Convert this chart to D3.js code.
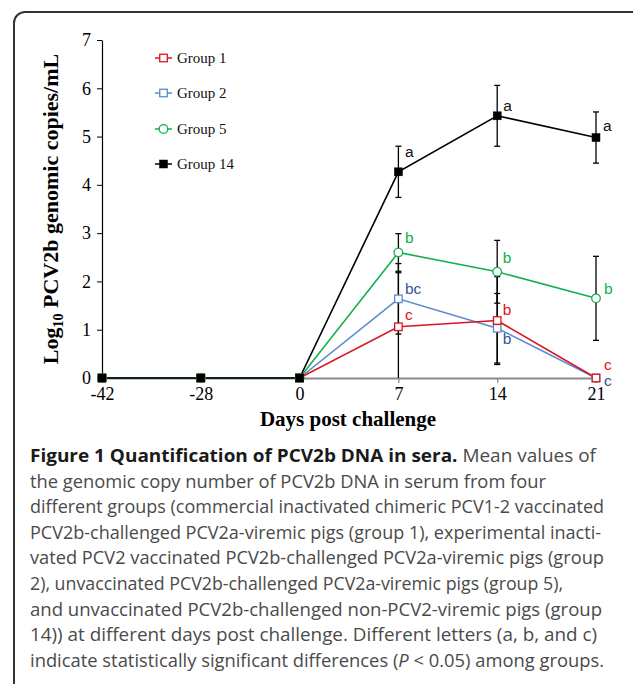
<!DOCTYPE html>
<html>
<head>
<meta charset="utf-8">
<script src="https://cdn.jsdelivr.net/npm/d3@7"></script>
<style>
  html, body { margin: 0; padding: 0; background: #fff; }
  svg { display: block; }
</style>
</head>
<body>
<svg id="chart" width="633" height="684"></svg>
<script>
// ---------- data ----------
const days = ["-42", "-28", "0", "7", "14", "21"];
const yTicks = [0, 1, 2, 3, 4, 5, 6, 7];

const groupNames = ["Group 1", "Group 2", "Group 5", "Group 14"];

const group1 = [0, 0, 0, 1.06, 1.19, 0];
const group1Err = [0, 0, 0, 1.12, 0.91, 0];
const group1Letters = [null, null, null, "c", "b", "c"];

const group2 = [0, 0, 0, 1.64, 1.03, 0];
const group2Err = [0, 0, 0, 0.73, 0.72, 0];
const group2Letters = [null, null, null, "bc", "b", "c"];

const group5 = [0, 0, 0, 2.60, 2.20, 1.65];
const group5Err = [0, 0, 0, 0.39, 0.65, 0.87];
const group5Letters = [null, null, null, "b", "b", "b"];

const group14 = [0, 0, 0, 4.27, 5.43, 4.98];
const group14Err = [0, 0, 0, 0.53, 0.63, 0.53];
const group14Letters = [null, null, null, "a", "a", "a"];

const yTitleMain = "Log";
const yTitleSub = "10";
const yTitleRest = " PCV2b genomic copies/mL";
const xTitle = "Days post challenge";

const captionBold = "Figure 1 Quantification of PCV2b DNA in sera.";
const captionLines = [
  " Mean values of",
  "the genomic copy number of PCV2b DNA in serum from four",
  "different groups (commercial inactivated chimeric PCV1-2 vaccinated",
  "PCV2b-challenged PCV2a-viremic pigs (group 1), experimental inacti-",
  "vated PCV2 vaccinated PCV2b-challenged PCV2a-viremic pigs (group",
  "2), unvaccinated PCV2b-challenged PCV2a-viremic pigs (group 5),",
  "and unvaccinated PCV2b-challenged non-PCV2-viremic pigs (group",
  "14)) at different days post challenge. Different letters (a, b, and c)",
  "indicate statistically significant differences (P < 0.05) among groups."
];

// ---------- styles / layout ----------
const series = [
  { name: groupNames[0], values: group1, err: group1Err, letters: group1Letters,
    line: "#d9141e", text: "#e3121c", marker: "square", fill: "#fff",
    offsets: [null, null, null, [6.5, -7], [5.5, -6], [8, -8]] },
  { name: groupNames[1], values: group2, err: group2Err, letters: group2Letters,
    line: "#5b8bd0", text: "#2f5597", marker: "square", fill: "#fff",
    offsets: [null, null, null, [6.5, -5], [5.5, 16], [8, 8]] },
  { name: groupNames[2], values: group5, err: group5Err, letters: group5Letters,
    line: "#11b04c", text: "#11b04c", marker: "circle", fill: "#fff",
    offsets: [null, null, null, [6.5, -9.5], [5.5, -9], [8, -4.5]] },
  { name: groupNames[3], values: group14, err: group14Err, letters: group14Letters,
    line: "#000", text: "#111", marker: "square", fill: "#000",
    offsets: [null, null, null, [6.5, -15], [6, -5], [7, -7]] }
];
// drawing order (bottom to top)
const drawOrder = [1, 0, 2, 3];

const svg = d3.select("#chart");
const serif = "'Liberation Serif', 'Times New Roman', serif";
const sans = "'Liberation Sans', Arial, sans-serif";

// frame
svg.append("rect")
  .attr("x", 14).attr("y", 12).attr("width", 630).attr("height", 700)
  .attr("rx", 11).attr("ry", 11)
  .attr("fill", "none").attr("stroke", "#333").attr("stroke-width", 2);

const x = d3.scalePoint().domain(days).range([102, 596]);
const y = d3.scaleLinear().domain([0, 7]).range([378, 40]);

// x axis
const xAxis = svg.append("g")
  .attr("transform", `translate(0,${y(0)})`)
  .call(d3.axisBottom(x).tickSize(5).tickSizeOuter(0).tickPadding(4));
xAxis.select(".domain").attr("stroke", "#8a8a8a").attr("stroke-width", 2.2);
xAxis.selectAll(".tick line").attr("stroke", "#8a8a8a").attr("stroke-width", 1.2);
xAxis.selectAll(".tick text")
  .attr("font-family", serif).attr("font-size", 18).attr("fill", "#000");

// y axis
const yAxis = svg.append("g")
  .attr("transform", `translate(${x(days[0])},0)`)
  .call(d3.axisLeft(y).tickValues(yTicks).tickFormat(d3.format("d"))
    .tickSize(5).tickSizeOuter(0).tickPadding(6));
yAxis.select(".domain").attr("stroke", "#000").attr("stroke-width", 1.2);
yAxis.selectAll(".tick line").attr("stroke", "#000").attr("stroke-width", 1);
yAxis.selectAll(".tick text")
  .attr("font-family", serif).attr("font-size", 18).attr("fill", "#000");

// y title
const yt = svg.append("text")
  .attr("transform", `translate(58,209) rotate(-90)`)
  .attr("text-anchor", "middle")
  .attr("font-family", serif).attr("font-weight", "bold").attr("font-size", 22)
  .attr("fill", "#000");
yt.append("tspan").text(yTitleMain);
yt.append("tspan").attr("font-size", 14).attr("dy", 5).text(yTitleSub);
yt.append("tspan").attr("dy", -5).text(yTitleRest);

// x title
svg.append("text")
  .attr("x", 348).attr("y", 426)
  .attr("text-anchor", "middle")
  .attr("font-family", serif).attr("font-weight", "bold").attr("font-size", 21)
  .attr("fill", "#000")
  .text(xTitle);

// error bars
const capW = 3;
const ebG = svg.append("g").attr("stroke", "#000").attr("stroke-width", 1.3);
series.forEach(s => {
  s.values.forEach((v, i) => {
    const e = s.err[i];
    if (!e) return;
    const cx = x(days[i]);
    const top = v + e, bot = Math.max(0, v - e);
    ebG.append("line").attr("x1", cx).attr("x2", cx).attr("y1", y(top)).attr("y2", y(bot));
    ebG.append("line").attr("x1", cx - capW).attr("x2", cx + capW).attr("y1", y(top)).attr("y2", y(top));
    if (v - e > 0) {
      ebG.append("line").attr("x1", cx - capW).attr("x2", cx + capW).attr("y1", y(bot)).attr("y2", y(bot));
    }
  });
});

// lines
const line = d3.line().x((d, i) => x(days[i])).y(d => y(d));
drawOrder.forEach(k => {
  const s = series[k];
  svg.append("path").datum(s.values)
    .attr("d", line).attr("fill", "none")
    .attr("stroke", s.line).attr("stroke-width", 1.6);
});

function drawMarker(g, s, cx, cy) {
  if (s.marker === "circle") {
    g.append("circle").attr("cx", cx).attr("cy", cy).attr("r", 4.3)
      .attr("fill", s.fill).attr("stroke", s.line).attr("stroke-width", 1.3);
  } else {
    const sz = s.fill === "#000" ? 8 : 7.5;
    g.append("rect").attr("x", cx - sz / 2).attr("y", cy - sz / 2)
      .attr("width", sz).attr("height", sz)
      .attr("fill", s.fill).attr("stroke", s.line).attr("stroke-width", s.fill === "#000" ? 0.5 : 1.3);
  }
}

// markers
drawOrder.forEach(k => {
  const s = series[k];
  const g = svg.append("g");
  s.values.forEach((v, i) => drawMarker(g, s, x(days[i]), y(v)));
});

// letters
series.forEach(s => {
  s.letters.forEach((l, i) => {
    if (!l) return;
    const o = s.offsets[i];
    svg.append("text")
      .attr("x", x(days[i]) + o[0]).attr("y", y(s.values[i]) + o[1])
      .attr("font-family", sans).attr("font-size", 15.5).attr("fill", s.text)
      .text(l);
  });
});

// legend
const legendBaselines = [63, 98, 134, 169];
series.forEach((s, k) => {
  const cy = legendBaselines[k] - 5;
  const g = svg.append("g");
  g.append("line").attr("x1", 155).attr("x2", 172).attr("y1", cy).attr("y2", cy)
    .attr("stroke", s.line).attr("stroke-width", 1.5);
  drawMarker(g, s, 163.5, cy);
  g.append("text").attr("x", 177).attr("y", legendBaselines[k])
    .attr("font-family", serif).attr("font-size", 15).attr("fill", "#111")
    .text(s.name);
});

// caption
const capFont = "'Open Sans', 'Noto Sans', sans-serif";
const capBaselines = [462, 488, 513, 539, 564, 590, 616, 641, 667];
const capEnds = [596, 546, 604, 601, 604, 563, 602, 597, 604];
const capStartX = 30;
captionLines.forEach((t, i) => {
  const txt = svg.append("text")
    .attr("x", capStartX).attr("y", capBaselines[i])
    .attr("font-family", capFont).attr("font-size", 17.5).attr("fill", "#4a4a4a")
    .attr("textLength", capEnds[i] - capStartX).attr("lengthAdjust", "spacingAndGlyphs");
  if (i === 0) {
    txt.append("tspan").attr("font-weight", "bold").attr("fill", "#1a1a1a").text(captionBold);
    txt.append("tspan").text(t);
  } else if (i === 8) {
    txt.append("tspan").text("indicate statistically significant differences (");
    txt.append("tspan").attr("font-style", "italic").text("P");
    txt.append("tspan").text(" < 0.05) among groups.");
  } else {
    txt.text(t);
  }
});
</script>
</body>
</html>
